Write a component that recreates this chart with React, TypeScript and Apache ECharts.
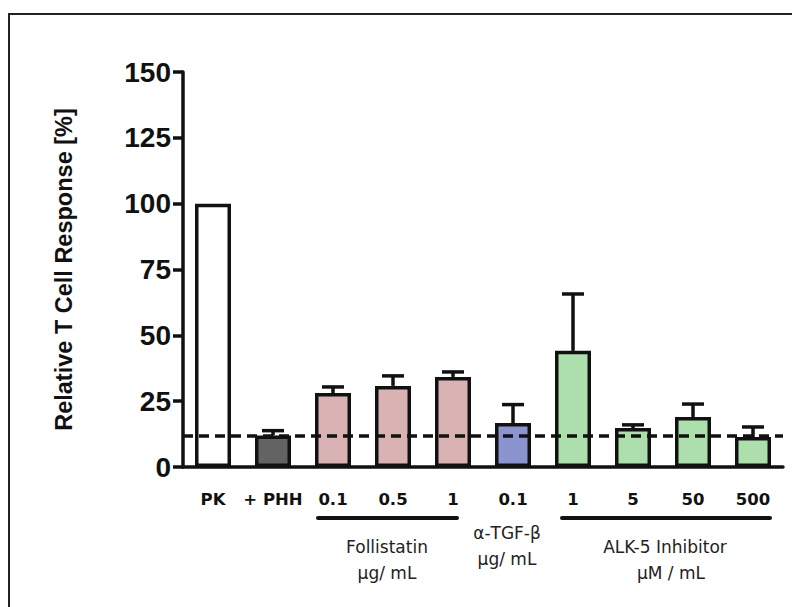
import React, { useEffect, useRef } from "react";
import * as echarts from "echarts";

const categories = ["PK", "+ PHH", "0.1", "0.5", "1", "0.1", "1", "5", "50", "500"];
const means = [100, 12, 28.1, 30.8, 34.2, 16.7, 44.1, 14.8, 19, 11.4];
const errors = [0, 1.8, 2.3, 3.8, 1.9, 7, 21.6, 1.2, 4.9, 3.8];
const barColors = ["#ffffff", "#636363", "#d9b3b3", "#d9b3b3", "#d9b3b3", "#8c94d0", "#addfad", "#addfad", "#addfad", "#addfad"];
const baseline = 12;
const yTicks = { min: 0, max: 150, interval: 25 };

export default function App() {
  const ref = useRef<HTMLDivElement>(null);
  useEffect(() => {
    const chart = echarts.init(ref.current!, null, { renderer: "svg" });
    const ink = "#111111";
    const groupText = (text: string, x: number, y: number) => ({
      type: "text",
      x,
      y,
      style: { text, fill: "#222", font: "17px 'DejaVu Sans'", textAlign: "center", textVerticalAlign: "middle" },
    });
    chart.setOption({
      animation: false,
      backgroundColor: "#ffffff",
      grid: { left: 183, right: 9, top: 72, bottom: 140 },
      xAxis: {
        type: "category",
        data: categories,
        axisLine: { lineStyle: { color: ink, width: 3.5 } },
        axisTick: { alignWithLabel: true, length: 11, lineStyle: { color: ink, width: 3.5 } },
        axisLabel: { color: ink, fontFamily: "DejaVu Sans", fontWeight: "bold", fontSize: 16.5, margin: 24, interval: 0 },
      },
      yAxis: {
        type: "value",
        min: yTicks.min,
        max: yTicks.max,
        interval: yTicks.interval,
        splitLine: { show: false },
        axisLine: { show: true, lineStyle: { color: ink, width: 3.5 } },
        axisTick: { show: true, length: 10, lineStyle: { color: ink, width: 3.5 } },
        axisLabel: { color: ink, fontFamily: "Liberation Sans", fontWeight: "bold", fontSize: 28, margin: 12 },
        name: "Relative T Cell Response [%]",
        nameLocation: "middle",
        nameRotate: 90,
        nameGap: 107,
        nameTextStyle: { color: ink, fontFamily: "Liberation Sans", fontWeight: "bold", fontSize: 23.5 },
      },
      series: [
        {
          type: "bar",
          barWidth: 36,
          data: means.map((v, i) => ({
            value: v,
            itemStyle: { color: barColors[i], borderColor: ink, borderWidth: 3.5 },
          })),
          z: 2,
        },
        {
          type: "custom",
          z: 3,
          data: means.map((v, i) => [i, v, errors[i]]),
          renderItem: (params: any, api: any) => {
            const i = api.value(0);
            const m = api.value(1);
            const e = api.value(2);
            if (!e) return { type: "group", children: [] };
            const p0 = api.coord([i, m]);
            const p1 = api.coord([i, m + e]);
            const st = { stroke: ink, lineWidth: 3.5 };
            return {
              type: "group",
              children: [
                { type: "line", shape: { x1: p0[0], y1: p0[1], x2: p1[0], y2: p1[1] }, style: st },
                { type: "line", shape: { x1: p1[0] - 11, y1: p1[1], x2: p1[0] + 11, y2: p1[1] }, style: st },
              ],
            };
          },
          markLine: {
            silent: true,
            symbol: ["none", "none"],
            label: { show: false },
            lineStyle: { color: ink, width: 3.5, type: [10, 6] },
            data: [{ yAxis: baseline }],
            z: 10,
          },
        },
      ],
      graphic: [
        { type: "rect", shape: { x: 9, y: 14, width: 900, height: 700 }, style: { fill: "none", stroke: "#222", lineWidth: 2 }, silent: true },
        { type: "line", shape: { x1: 318, y1: 518, x2: 457, y2: 518 }, style: { stroke: ink, lineWidth: 4, lineCap: "round" } },
        { type: "line", shape: { x1: 562, y1: 518, x2: 770, y2: 518 }, style: { stroke: ink, lineWidth: 4, lineCap: "round" } },
        groupText("Follistatin", 387, 547),
        groupText("µg/ mL", 387, 573),
        groupText("α-TGF-β", 507, 533),
        groupText("µg/ mL", 507, 559),
        groupText("ALK-5 Inhibitor", 665, 547),
        groupText("µM / mL", 671, 573),
      ],
    });
    return () => chart.dispose();
  }, []);
  return <div ref={ref} style={{ position: "absolute", left: 0, top: 0, width: 792, height: 607 }} />;
}
